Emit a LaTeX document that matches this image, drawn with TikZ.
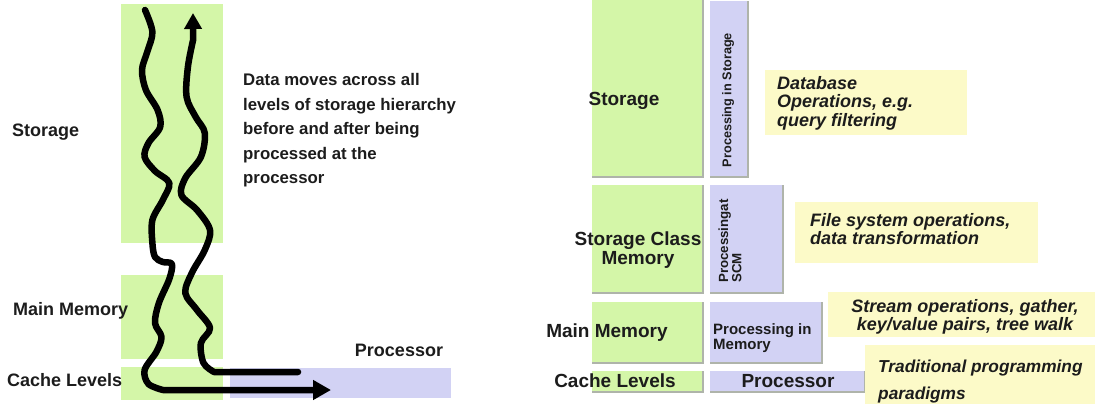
\documentclass[tikz,border=0pt]{standalone}
\usepackage{fontspec}
\setmainfont{Liberation Sans}
\usetikzlibrary{arrows.meta}
\definecolor{boxgreen}{RGB}{212,246,168}
\definecolor{boxblue}{RGB}{210,210,244}
\definecolor{boxyellow}{RGB}{252,250,200}
\definecolor{inkcol}{RGB}{28,28,28}
\definecolor{edgecol}{RGB}{175,180,170}
\begin{document}
\begin{tikzpicture}[x=1pt,y=-1pt,
  blk/.style={anchor=north west, inner sep=0pt, outer sep=0pt},
  gbox/.style={blk, fill=boxgreen},
  bbox/.style={blk, fill=boxblue},
  ybox/.style={blk, fill=boxyellow},
  lbl/.style={inner sep=0pt, text=inkcol, font=\bfseries\fontsize{18}{20}\selectfont},
  rlbl/.style={inner sep=0pt, text=inkcol, align=center, font=\bfseries\fontsize{19}{19}\selectfont},
  note/.style={inner sep=0pt, text=inkcol, align=left, font=\bfseries\itshape\fontsize{18}{18.5}\selectfont},
  para/.style={inner sep=0pt, text=inkcol, align=left, font=\bfseries\fontsize{16.8}{24.5}\selectfont},
  wave/.style={line width=6.5pt, line join=round, line cap=round, draw=black},
  edge/.style={draw=edgecol, line width=1.2pt},
]
\useasboundingbox (0,0) rectangle (1099,404);

% ---------- left panel ----------
\node[gbox, minimum width=102pt, minimum height=239pt] (lstor) at (121,4) {};
\node[gbox, minimum width=102pt, minimum height=84pt] (lmm) at (121,275) {};
\node[gbox, minimum width=102pt, minimum height=33pt] (lcache) at (121,367) {};
\node[bbox, minimum width=221pt, minimum height=30pt] (lproc) at (230,368) {};

\node[lbl, anchor=west] (tstor) at (12,132) {Storage};
\node[lbl, anchor=west] (tmm) at (13,311) {Main Memory};
\node[lbl, anchor=west] (tcache) at (7,380) {Cache Levels};
\node[lbl] (tproc) at (399,350) {Processor};

\node[para, anchor=north west] (tpara) at (243,73.5) {Data moves across all\\levels of storage hierarchy\\before and after being\\processed at the\\processor};

\coordinate (a1s) at (145,10);
\coordinate (a1e) at (331,390);
\coordinate (a2s) at (298,372);
\coordinate (a2e) at (193,13);

\draw[wave, -{Triangle[length=18pt,width=19pt]}] (a1s) -- plot[smooth, tension=0.55] coordinates {
 (145,10) (152.4,32) (147.2,52) (142,70) (145.9,90) (157.6,110) (160.2,127) (148.5,143) (144.6,157)
 (155,171) (169.3,183) (162.8,200) (152.4,220) (152.4,243) (155,257) (162.8,262) (171.9,264) (169.3,279)
 (158.9,303) (155,323) (161.5,337) (156.3,352) (144.6,370) (148.5,384) (163,390)} -- (a1e);

\draw[wave, -{Triangle[length=16pt,width=17pt]}] (a2s) -- plot[smooth, tension=0.55] coordinates {
 (214,372) (203.5,363) (200.9,343) (210,328) (197,310) (185.3,293) (191.8,273) (204.8,250) (210,230)
 (197,210) (181.4,195) (185.3,178) (200.9,157) (204.8,133) (195.7,117) (186.6,97) (187.9,67) (193.1,40)} -- (a2e);

% ---------- right panel ----------
\node[gbox, minimum width=111pt, minimum height=177pt] (rstor) at (592,0) {};
\node[bbox, minimum width=38pt, minimum height=176pt] (pis) at (710,1) {};
\node[gbox, minimum width=111pt, minimum height=108pt] (rscm) at (592,185) {};
\node[bbox, minimum width=73pt, minimum height=108pt] (pscm) at (710,185) {};
\node[gbox, minimum width=111pt, minimum height=61pt] (rmm) at (592,302) {};
\node[bbox, minimum width=112pt, minimum height=61pt] (pim) at (710,302) {};
\node[gbox, minimum width=111pt, minimum height=21pt] (rcache) at (592,371) {};
\node[bbox, minimum width=155pt, minimum height=21pt] (rproc) at (710,371) {};

\foreach \b in {rstor,pis,rscm,pscm,rmm,pim,rcache,rproc}{
  \draw[edge] (\b.north east) -- (\b.south east) -- (\b.south west);
}

\node[ybox, minimum width=202pt, minimum height=65pt] (y1) at (765,70) {};
\node[ybox, minimum width=243pt, minimum height=61pt] (y2) at (795,202) {};
\node[ybox, minimum width=267pt, minimum height=45pt] (y3) at (828,292) {};
\node[ybox, minimum width=230pt, minimum height=59pt] (y4) at (865,345) {};

\node[rlbl] (rtstor) at (624,101) {Storage};
\node[rlbl] (rtscm) at (638,250) {Storage Class\\Memory};
\node[rlbl] (rtmm) at (607,333) {Main Memory};
\node[rlbl] (rtcache) at (615,381) {Cache Levels};
\node[rlbl] (rtproc) at (788,381) {Processor};

\node[inner sep=0pt, text=inkcol, rotate=90, font=\bfseries\fontsize{12.7}{13}\selectfont] (tpis) at (728,100) {Processing in Storage};
\node[inner sep=0pt, text=inkcol, rotate=90, align=left, font=\bfseries\fontsize{13.3}{11}\selectfont] (tpscm) at (730,241) {Processingat\\SCM};
\node[inner sep=0pt, text=inkcol, anchor=west, align=left, font=\bfseries\fontsize{15}{15.5}\selectfont] (tpim) at (713,338) {Processing in\\Memory};

\node[note, anchor=west] (ty1) at (777,103) {Database\\Operations, e.g.\\query filtering};
\node[note, anchor=west] (ty2) at (810,229) {File system operations,\\data transformation};
\node[note, align=center, font=\bfseries\itshape\fontsize{18}{17.5}\selectfont] (ty3) at (965,317) {Stream operations, gather,\\key/value pairs, tree walk};
\node[note, anchor=west, font=\bfseries\itshape\fontsize{17.3}{27}\selectfont] (ty4) at (878,382) {Traditional programming\\paradigms};
\end{tikzpicture}
\end{document}
